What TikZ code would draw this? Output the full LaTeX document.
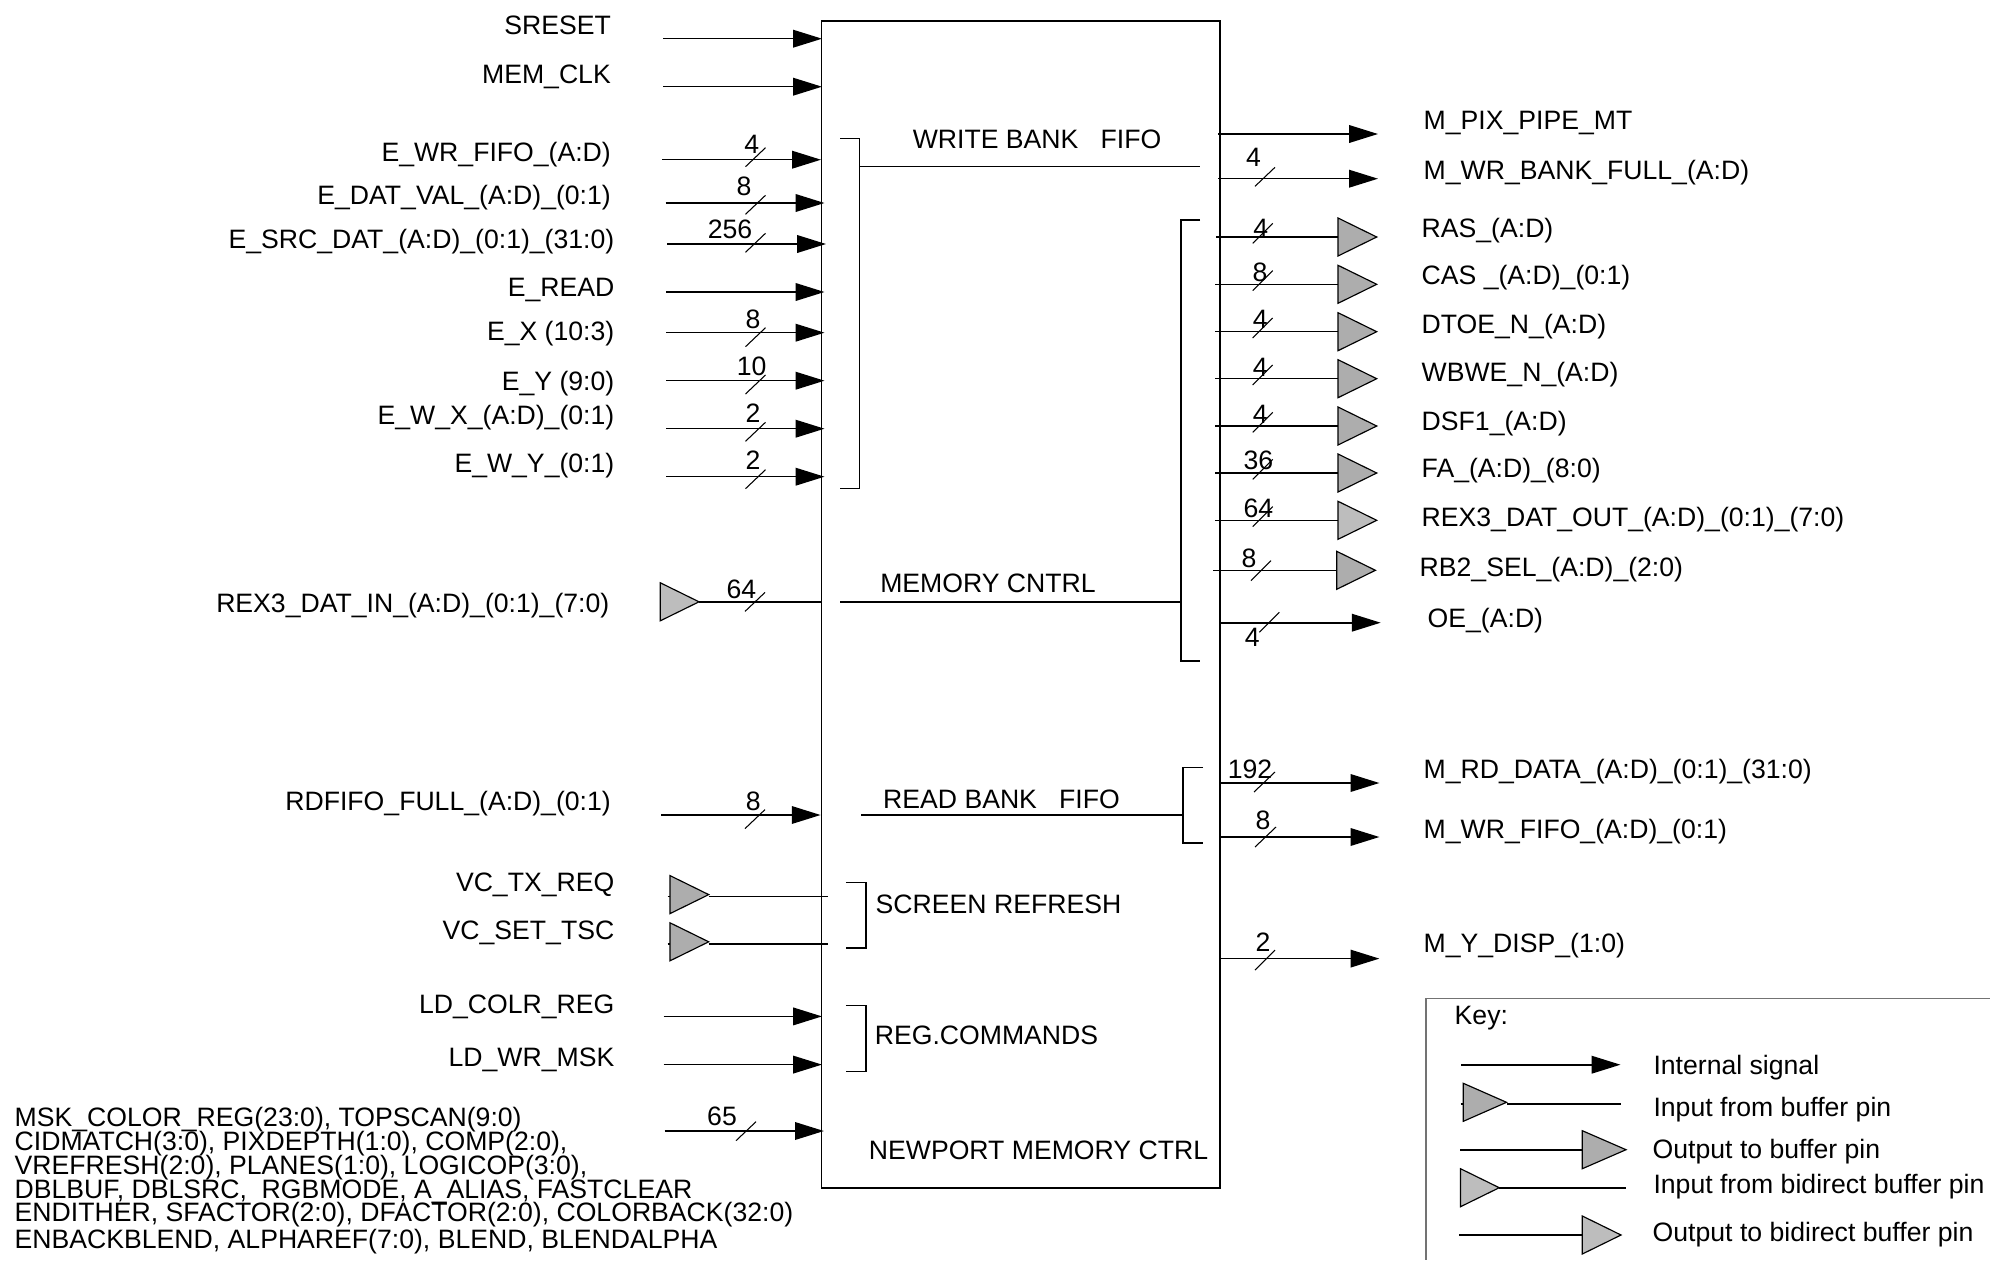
\documentclass[tikz,border=0pt]{standalone}
\usepackage{fontspec}
\setmainfont{Liberation Sans}
\usetikzlibrary{arrows.meta}
\usetikzlibrary{shapes.geometric}
\tikzset{
    txt/.style={inner sep=0pt, text height=5.4pt, text depth=0pt, font=\fontsize{7.57}{9}\selectfont},
    lbl/.style={txt, anchor=east},
    rlbl/.style={txt, anchor=west},
    wire/.style={line width=0.45pt},
    sig/.style={wire, -{Triangle[length=8.2pt, width=5pt]}},
    tick/.style={line width=0.3pt},
    brack/.style={line width=0.45pt},
    buf/.style={draw, line width=0.33pt, fill=#1, isosceles triangle, isosceles triangle stretches, minimum width=0.38cm, minimum height=0.387cm, inner sep=0pt, outer sep=0pt, anchor=lower side},
    buf/.default={black!32},
    bidir/.style={buf=black!26}
}
\begin{document}
\begin{tikzpicture}[x=0.01cm, y=-0.01cm]
        \useasboundingbox (0,0) rectangle (1990,1260);

        % Block
        \node[draw, line width=0.45pt, inner sep=0pt, outer sep=0pt, minimum width=3.98cm, minimum height=11.66cm] (ctrl) at (1020.7,604.6) {};
        \node[txt] (wrtxt) at (1037,139) {WRITE BANK~~~FIFO};
        \node[txt] (memtxt) at (988,583) {MEMORY CNTRL};
        \node[txt] (rdtxt) at (1001.5,799.3) {READ BANK~~~FIFO};
        \node[txt] (scrtxt) at (998.5,904) {SCREEN REFRESH};
        \node[txt] (regtxt) at (986.5,1034.8) {REG.COMMANDS};
        \node[txt] (nmctxt) at (1038.5,1149.7) {NEWPORT MEMORY CTRL};

        % Input labels
        \node[lbl] (sreset) at (611.5,25.4) {SRESET};
        \node[lbl] (memclk) at (611.5,73.6) {MEM\_CLK};
        \node[lbl] (ewr) at (611.5,152) {E\_WR\_FIFO\_(A:D)};
        \node[lbl] (edat) at (611.5,195.4) {E\_DAT\_VAL\_(A:D)\_(0:1)};
        \node[lbl] (esrc) at (615,238.6) {E\_SRC\_DAT\_(A:D)\_(0:1)\_(31:0)};
        \node[lbl] (eread) at (615,286.8) {E\_READ};
        \node[lbl] (ex) at (615,331) {E\_X (10:3)};
        \node[lbl] (ey) at (615,380.7) {E\_Y (9:0)};
        \node[lbl] (ewx) at (615,415) {E\_W\_X\_(A:D)\_(0:1)};
        \node[lbl] (ewy) at (615,463) {E\_W\_Y\_(0:1)};
        \node[lbl] (rexin) at (610,602.8) {REX3\_DAT\_IN\_(A:D)\_(0:1)\_(7:0)};
        \node[lbl] (rdfull) at (611.5,800.7) {RDFIFO\_FULL\_(A:D)\_(0:1)};
        \node[lbl] (vctx) at (615,882) {VC\_TX\_REQ};
        \node[lbl] (vcset) at (615,930) {VC\_SET\_TSC};
        \node[lbl] (ldcolr) at (615,1003.8) {LD\_COLR\_REG};
        \node[lbl] (ldwr) at (615,1057) {LD\_WR\_MSK};
        \node[rlbl] (regsa) at (14,1116.7) {MSK\_COLOR\_REG(23:0), TOPSCAN(9:0)};
        \node[rlbl] (regsb) at (14,1141) {CIDMATCH(3:0), PIXDEPTH(1:0), COMP(2:0),};
        \node[rlbl] (regsc) at (14,1165) {VREFRESH(2:0), PLANES(1:0), LOGICOP(3:0),};
        \node[rlbl] (regsd) at (14,1189.3) {DBLBUF, DBLSRC,~~RGBMODE, A\_ALIAS, FASTCLEAR};
        \node[rlbl] (regse) at (14,1211.7) {ENDITHER, SFACTOR(2:0), DFACTOR(2:0), COLORBACK(32:0)};
        \node[rlbl] (regsf) at (14,1239) {ENBACKBLEND, ALPHAREF(7:0), BLEND, BLENDALPHA};

        % Output labels
        \node[rlbl] (mpix) at (1423,120.5) {M\_PIX\_PIPE\_MT};
        \node[rlbl] (mwrb) at (1423,170) {M\_WR\_BANK\_FULL\_(A:D)};
        \node[rlbl] (ras) at (1421,228.4) {RAS\_(A:D)};
        \node[rlbl] (cas) at (1421,275.4) {CAS \_(A:D)\_(0:1)};
        \node[rlbl] (dtoe) at (1421,323.6) {DTOE\_N\_(A:D)};
        \node[rlbl] (wbwe) at (1421,371.8) {WBWE\_N\_(A:D)};
        \node[rlbl] (dsf) at (1421,421) {DSF1\_(A:D)};
        \node[rlbl] (fa) at (1421,468) {FA\_(A:D)\_(8:0)};
        \node[rlbl] (rexout) at (1421,516.5) {REX3\_DAT\_OUT\_(A:D)\_(0:1)\_(7:0)};
        \node[rlbl] (rbsel) at (1419,567) {RB2\_SEL\_(A:D)\_(2:0)};
        \node[rlbl] (oe) at (1427,618) {OE\_(A:D)};
        \node[rlbl] (mrd) at (1423,769) {M\_RD\_DATA\_(A:D)\_(0:1)\_(31:0)};
        \node[rlbl] (mwrf) at (1423,828.7) {M\_WR\_FIFO\_(A:D)\_(0:1)};
        \node[rlbl] (mdisp) at (1423,943) {M\_Y\_DISP\_(1:0)};

        % Bus widths
        \node[txt] (wa) at (751.7,144) {4};
        \node[txt] (wb) at (744,185.7) {8};
        \node[txt] (wc) at (730,229) {256};
        \node[txt] (wd) at (753,319) {8};
        \node[txt] (we) at (751.7,366) {10};
        \node[txt] (wf) at (753,413.3) {2};
        \node[txt] (wg) at (753,460) {2};
        \node[txt] (wh) at (741.4,588.6) {64};
        \node[txt] (wi) at (753.3,800.7) {8};
        \node[txt] (wj) at (722,1116) {65};
        \node[txt] (wk) at (1253.5,157.3) {4};
        \node[txt] (wl) at (1260.7,228) {4};
        \node[txt] (wm) at (1260,271.7) {8};
        \node[txt] (wn) at (1260.3,319.3) {4};
        \node[txt] (wo) at (1260.3,366.7) {4};
        \node[txt] (wp) at (1260.3,414.3) {4};
        \node[txt] (wq) at (1258.3,460) {36};
        \node[txt] (wr) at (1258.3,508.3) {64};
        \node[txt] (ws) at (1249,558.3) {8};
        \node[txt] (wt) at (1252.3,637.3) {4};
        \node[txt] (wu) at (1250,769) {192};
        \node[txt] (wv) at (1263,820) {8};
        \node[txt] (ww) at (1263,941.6) {2};

        % Wire ends
        \coordinate (sresetA) at (663,38.7);
        \coordinate (sresetB) at (822,38.7);
        \coordinate (memclkA) at (663,86.7);
        \coordinate (memclkB) at (822,86.7);
        \coordinate (ewrA) at (662,159.7);
        \coordinate (ewrB) at (821,159.7);
        \coordinate (edatA) at (665.5,203);
        \coordinate (edatB) at (824.5,203);
        \coordinate (esrcA) at (667,244);
        \coordinate (esrcB) at (826,244);
        \coordinate (ereadA) at (666,292);
        \coordinate (ereadB) at (824.5,292);
        \coordinate (exA) at (666,332.7);
        \coordinate (exB) at (824.5,332.7);
        \coordinate (eyA) at (666,380.7);
        \coordinate (eyB) at (824.5,380.7);
        \coordinate (ewxA) at (666,428.7);
        \coordinate (ewxB) at (824.5,428.7);
        \coordinate (ewyA) at (666,476.7);
        \coordinate (ewyB) at (824.5,476.7);
        \coordinate (rexinB) at (821.8,601.8);
        \coordinate (rdfullA) at (661.4,815);
        \coordinate (rdfullB) at (820.6,815);
        \coordinate (vctxA) at (667.5,896.4);
        \coordinate (vctxB) at (828,896.4);
        \coordinate (vcsetA) at (667.5,944);
        \coordinate (vcsetB) at (828,944);
        \coordinate (ldcolrA) at (663.7,1016.4);
        \coordinate (ldcolrB) at (822,1016.4);
        \coordinate (ldwrA) at (663.7,1064.6);
        \coordinate (ldwrB) at (822,1064.6);
        \coordinate (regsA) at (664.5,1131);
        \coordinate (regsB) at (823.9,1131);
        \coordinate (mpixA) at (1218,134);
        \coordinate (mpixB) at (1378,134);
        \coordinate (mwrbA) at (1218,178.7);
        \coordinate (mwrbB) at (1378,178.7);
        \coordinate (rasA) at (1216,237);
        \coordinate (casA) at (1215,284.3);
        \coordinate (dtoeA) at (1215,331.7);
        \coordinate (wbweA) at (1215,378.7);
        \coordinate (dsfA) at (1215,426);
        \coordinate (faA) at (1215,473);
        \coordinate (rexoutA) at (1215,520.3);
        \coordinate (rbselA) at (1213.3,570.3);
        \coordinate (oeA) at (1221,622.7);
        \coordinate (oeB) at (1380.7,622.7);
        \coordinate (mrdA) at (1219.5,783);
        \coordinate (mrdB) at (1379.4,783);
        \coordinate (mwrfA) at (1219.5,837);
        \coordinate (mwrfB) at (1379.4,837);
        \coordinate (mdispA) at (1219.5,958.6);
        \coordinate (mdispB) at (1379.4,958.6);

        % Inner buses
        \coordinate (wrbrT) at (840,138.3);
        \coordinate (wrbrC) at (859.7,138.3);
        \coordinate (wrbrD) at (859.7,488.3);
        \coordinate (wrbrB) at (840,488.3);
        \coordinate (wrbrM) at (859.7,166.7);
        \coordinate (wrbusB) at (1200,166.7);
        \coordinate (membrT) at (1200,220);
        \coordinate (membrC) at (1180.8,220);
        \coordinate (membrD) at (1180.8,661);
        \coordinate (membrB) at (1200,661);
        \coordinate (membrM) at (1180.8,601.8);
        \coordinate (membusA) at (840,601.8);
        \coordinate (rdbrT) at (1203,767.5);
        \coordinate (rdbrC) at (1183,767.5);
        \coordinate (rdbrD) at (1183,843.2);
        \coordinate (rdbrB) at (1203,843.2);
        \coordinate (rdbrM) at (1183,815);
        \coordinate (rdbusA) at (861.2,815);
        \coordinate (scrbrT) at (845.9,882.5);
        \coordinate (scrbrC) at (865.8,882.5);
        \coordinate (scrbrD) at (865.8,948.2);
        \coordinate (scrbrB) at (845.9,948.2);
        \coordinate (regbrT) at (845.9,1005.4);
        \coordinate (regbrC) at (865.8,1005.4);
        \coordinate (regbrD) at (865.8,1071.4);
        \coordinate (regbrB) at (845.9,1071.4);

        % Pins
        \node[bidir] (rexinT) at (660.3,601.8) {};
        \node[buf] (vctxT) at (670,894.6) {};
        \node[buf] (vcsetT) at (670,941.8) {};
        \node[buf] (rasT) at (1338,237) {};
        \node[buf] (casT) at (1338,284.3) {};
        \node[buf] (dtoeT) at (1338,331.7) {};
        \node[buf] (wbweT) at (1338,378.7) {};
        \node[buf] (dsfT) at (1338,426) {};
        \node[buf] (faT) at (1338,473) {};
        \node[bidir] (rexoutT) at (1338,520.3) {};
        \node[buf] (rbselT) at (1336.7,570.3) {};

        % Arrows
        \draw[sig] (sresetA) -- (sresetB);
        \draw[sig] (memclkA) -- (memclkB);
        \draw[sig] (ewrA) -- (ewrB);
        \draw[sig] (edatA) -- (edatB);
        \draw[sig] (esrcA) -- (esrcB);
        \draw[sig] (ereadA) -- (ereadB);
        \draw[sig] (exA) -- (exB);
        \draw[sig] (eyA) -- (eyB);
        \draw[sig] (ewxA) -- (ewxB);
        \draw[sig] (ewyA) -- (ewyB);
        \draw[wire] (rexinT.apex) -- (rexinB);
        \draw[sig] (rdfullA) -- (rdfullB);
        \draw[wire] (vctxA) -- (vctxT.lower side |- vctxA);
        \draw[wire] (vctxT.apex |- vctxA) -- (vctxB);
        \draw[wire] (vcsetA) -- (vcsetT.lower side |- vcsetA);
        \draw[wire] (vcsetT.apex |- vcsetA) -- (vcsetB);
        \draw[sig] (ldcolrA) -- (ldcolrB);
        \draw[sig] (ldwrA) -- (ldwrB);
        \draw[sig] (regsA) -- (regsB);
        \draw[sig] (mpixA) -- (mpixB);
        \draw[sig] (mwrbA) -- (mwrbB);
        \draw[wire] (rasA) -- (rasT.lower side);
        \draw[wire] (casA) -- (casT.lower side);
        \draw[wire] (dtoeA) -- (dtoeT.lower side);
        \draw[wire] (wbweA) -- (wbweT.lower side);
        \draw[wire] (dsfA) -- (dsfT.lower side);
        \draw[wire] (faA) -- (faT.lower side);
        \draw[wire] (rexoutA) -- (rexoutT.lower side);
        \draw[wire] (rbselA) -- (rbselT.lower side);
        \draw[sig] (oeA) -- (oeB);
        \draw[sig] (mrdA) -- (mrdB);
        \draw[sig] (mwrfA) -- (mwrfB);
        \draw[sig] (mdispA) -- (mdispB);

        % Brackets
        \draw[brack] (wrbrT) -- (wrbrC) -- (wrbrD) -- (wrbrB);
        \draw[wire] (wrbrM) -- (wrbusB);
        \draw[brack] (membrT) -- (membrC) -- (membrD) -- (membrB);
        \draw[wire] (membusA) -- (membrM);
        \draw[brack] (rdbrT) -- (rdbrC) -- (rdbrD) -- (rdbrB);
        \draw[wire] (rdbusA) -- (rdbrM);
        \draw[brack] (scrbrT) -- (scrbrC) -- (scrbrD) -- (scrbrB);
        \draw[brack] (regbrT) -- (regbrC) -- (regbrD) -- (regbrB);

        % Ticks
        \draw[tick] (745.5,166.7) -- ++(20,-19);
        \draw[tick] (745.5,214.3) -- ++(20,-19);
        \draw[tick] (745.5,252.3) -- ++(20,-19);
        \draw[tick] (745.5,346.7) -- ++(20,-19);
        \draw[tick] (745.5,394) -- ++(20,-19);
        \draw[tick] (745.5,441.3) -- ++(20,-19);
        \draw[tick] (745.5,488.7) -- ++(20,-19);
        \draw[tick] (745,611.4) -- ++(20,-19);
        \draw[tick] (745,828.6) -- ++(20,-19);
        \draw[tick] (736,1140.7) -- ++(20,-19);
        \draw[tick] (1255,186.3) -- ++(20,-19);
        \draw[tick] (1252.7,243.3) -- ++(20,-20);
        \draw[tick] (1252.7,290.6) -- ++(20,-20);
        \draw[tick] (1252.7,338) -- ++(20,-20);
        \draw[tick] (1252.7,385) -- ++(20,-20);
        \draw[tick] (1252.7,432.3) -- ++(20,-20);
        \draw[tick] (1252.7,479.3) -- ++(20,-20);
        \draw[tick] (1252.7,526.6) -- ++(20,-20);
        \draw[tick] (1251,580.7) -- ++(20,-20);
        \draw[tick] (1259.3,632.3) -- ++(20,-20);
        \draw[tick] (1254,792) -- ++(21,-20);
        \draw[tick] (1255,847) -- ++(21,-20);
        \draw[tick] (1255,970) -- ++(20,-20);

        % Key
        \draw[line width=0.3pt, black!55] (1990,998.3) -- (1426,998.3) -- (1426,1260);
        \node[rlbl] (keyt) at (1454,1015) {Key:};
        \node[rlbl] (keya) at (1652.8,1065) {Internal signal};
        \node[rlbl] (keyb) at (1652.8,1106.7) {Input from buffer pin};
        \node[rlbl] (keyc) at (1652,1149.3) {Output to buffer pin};
        \node[rlbl] (keyd) at (1652.8,1184) {Input from bidirect buffer pin};
        \node[rlbl] (keye) at (1652,1232.3) {Output to bidirect buffer pin};
        \coordinate (keyaA) at (1461,1064.7);
        \coordinate (keyaB) at (1620.5,1064.7);
        \coordinate (keybA) at (1460.5,1104);
        \coordinate (keybB) at (1620.5,1104);
        \coordinate (keycA) at (1460,1149.7);
        \coordinate (keydB) at (1626,1187.7);
        \coordinate (keyeA) at (1459,1235);
        \node[buf, minimum height=0.432cm] (keybT) at (1463.3,1102.3) {};
        \node[buf, minimum height=0.437cm] (keycT) at (1582.3,1149.7) {};
        \node[bidir] (keydT) at (1460.5,1187.7) {};
        \node[bidir] (keyeT) at (1582.3,1235) {};
        \draw[sig] (keyaA) -- (keyaB);
        \draw[wire] (keybA) -- (keybT.lower side |- keybA);
        \draw[wire] (keybT.apex |- keybA) -- (keybB);
        \draw[wire] (keycA) -- (keycT.lower side);
        \draw[wire] (keydT.apex) -- (keydB);
        \draw[wire] (keyeA) -- (keyeT.lower side);
\end{tikzpicture}
\end{document}
